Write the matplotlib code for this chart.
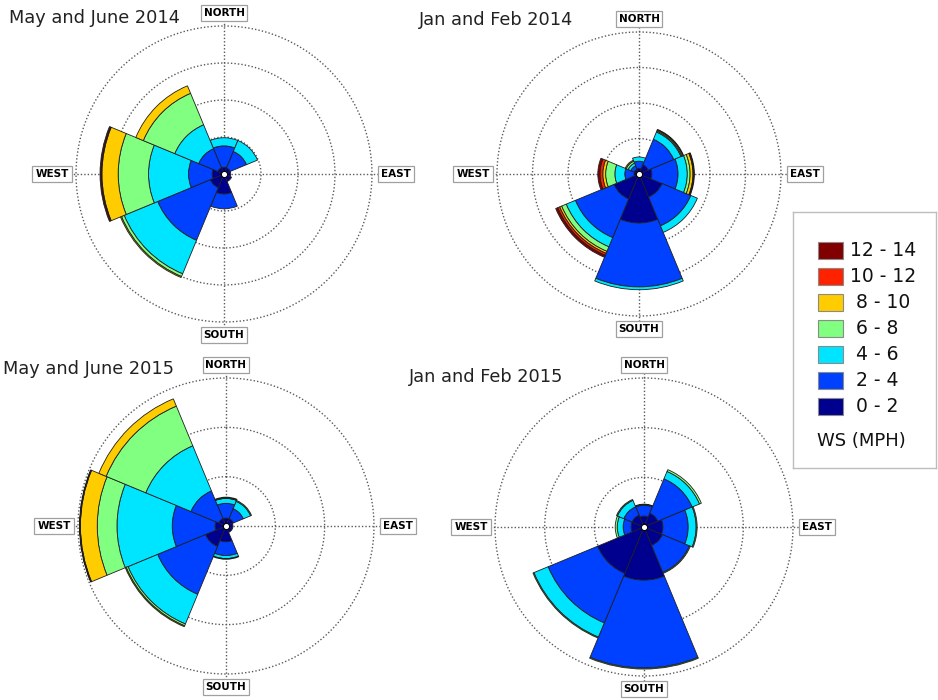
import numpy as np
import matplotlib.pyplot as plt
from matplotlib.patches import Rectangle

# directions clockwise from north, speed bins (MPH)
directions = ['N', 'NE', 'E', 'SE', 'S', 'SW', 'W', 'NW']
speed_bins = ['0 - 2', '2 - 4', '4 - 6', '6 - 8', '8 - 10', '10 - 12', '12 - 14']
bin_colors = ['#00008F', '#0040FF', '#00E5FF', '#80FF80', '#FFCC00', '#FF2200', '#800000']

# frequency (%) per speed bin (rows) and direction (columns)
may_jun_2014 = [
    [0.9, 0.9, 0.9, 1.1, 2.7, 2.0, 1.6, 0.9],
    [2.9, 2.4, 0.0, 0.0, 2.0, 7.7, 3.2, 2.8],
    [1.1, 1.6, 0.0, 0.0, 0.0, 4.9, 5.4, 3.5],
    [0.0, 0.0, 0.0, 0.0, 0.0, 0.4, 4.1, 4.6],
    [0.0, 0.0, 0.0, 0.0, 0.0, 0.15, 2.2, 1.1],
    [0.0, 0.0, 0.0, 0.0, 0.0, 0.0, 0.1, 0.0],
    [0.0, 0.0, 0.0, 0.0, 0.0, 0.0, 0.15, 0.0],
]
jan_feb_2014 = [
    [0.8, 1.4, 1.8, 3.5, 6.9, 3.8, 0.7, 0.7],
    [1.0, 3.9, 3.7, 4.4, 9.0, 5.9, 1.3, 0.55],
    [0.6, 1.1, 1.3, 1.0, 0.4, 1.4, 1.4, 0.4],
    [0.0, 0.15, 0.4, 0.0, 0.0, 0.7, 1.3, 0.3],
    [0.0, 0.15, 0.4, 0.0, 0.0, 0.3, 0.4, 0.15],
    [0.0, 0.1, 0.1, 0.0, 0.0, 0.3, 0.4, 0.0],
    [0.0, 0.0, 0.1, 0.0, 0.0, 0.3, 0.3, 0.0],
]
may_jun_2015 = [
    [1.6, 1.6, 1.4, 1.4, 3.2, 4.5, 2.2, 1.6],
    [3.0, 2.2, 0.0, 0.0, 2.8, 10.5, 8.7, 6.1],
    [1.0, 1.6, 0.0, 0.0, 0.6, 6.5, 11.2, 9.9],
    [0.1, 0.2, 0.0, 0.0, 0.15, 0.4, 4.0, 8.7],
    [0.15, 0.0, 0.0, 0.0, 0.0, 0.2, 3.4, 1.6],
    [0.0, 0.0, 0.0, 0.0, 0.0, 0.0, 0.1, 0.0],
    [0.0, 0.0, 0.0, 0.0, 0.0, 0.0, 0.1, 0.0],
]
jan_feb_2015 = [
    [2.2, 3.0, 3.8, 4.0, 10.7, 10.1, 2.6, 2.6],
    [2.2, 7.5, 5.1, 5.9, 17.7, 10.8, 1.6, 1.8],
    [0.1, 1.6, 1.6, 0.0, 0.0, 3.1, 1.2, 1.4],
    [0.1, 0.4, 0.2, 0.2, 0.2, 0.2, 0.4, 0.2],
    [0.0, 0.0, 0.0, 0.0, 0.0, 0.0, 0.0, 0.0],
    [0.0, 0.0, 0.0, 0.0, 0.0, 0.0, 0.0, 0.0],
    [0.0, 0.0, 0.0, 0.0, 0.0, 0.0, 0.0, 0.0],
]

W, H = 938, 700
fig = plt.figure(figsize=(W / 100, H / 100), dpi=100)
fig.patch.set_facecolor('white')

DOTS = (0, (1, 1.5))


def rose(data, title, cx, cy, rpx, rings, title_xy):
    """Draw one wind rose centred at pixel (cx, cy) with outer ring radius rpx."""
    ax = fig.add_axes([(cx - rpx) / W, 1 - (cy + rpx) / H, 2 * rpx / W, 2 * rpx / H],
                      projection='polar')
    rmax = rings[-1]
    ax.set_theta_zero_location('N')
    ax.set_theta_direction(-1)
    ax.set_ylim(0, rmax)
    ax.set_axis_off()

    # dotted range rings
    t = np.linspace(0, 2 * np.pi, 361)
    for r in rings:
        ax.plot(t, np.full_like(t, r), ls=DOTS, color='#5a5a5a',
                lw=1.0, zorder=1, clip_on=False)

    # dotted cross hair and compass labels
    for ang, name, off in [(0, 'NORTH', 13), (np.pi / 2, 'EAST', 24),
                           (np.pi, 'SOUTH', 13), (3 * np.pi / 2, 'WEST', 24)]:
        rl = rmax * (1 + off / rpx)
        ax.plot([ang, ang], [0, rl], ls=DOTS, color='#5a5a5a',
                lw=1.0, zorder=1, clip_on=False)
        ax.text(ang, rl, name, ha='center', va='center', fontsize=7.5,
                fontweight='bold', color='black', zorder=7, clip_on=False,
                bbox=dict(boxstyle='square,pad=0.28', fc='white', ec='#a0a0a0', lw=0.9))

    theta = np.arange(len(directions)) * 2 * np.pi / len(directions)
    vals = np.array(data, dtype=float)
    bottom = np.zeros(len(directions))
    for i, row in enumerate(vals):
        m = row > 0
        ax.bar(theta[m], row[m], width=2 * np.pi / len(directions), bottom=bottom[m],
               color=bin_colors[i], edgecolor='#1e1e1e', lw=0.6, zorder=3)
        bottom += row

    ax.plot([0], [0], 'o', ms=4.5, mfc='white', mec='black', mew=0.8, zorder=8)
    fig.text(title_xy[0] / W, 1 - title_xy[1] / H, title, fontsize=12.8,
             color='#222222', ha='left', va='baseline')
    return ax


rose(may_jun_2014, 'May and June 2014', 224, 174, 148, [5, 10, 15, 20], (9, 23))
rose(jan_feb_2014, 'Jan and Feb 2014', 639, 174, 142, [5, 10, 15, 20], (419, 25))
rose(may_jun_2015, 'May and June 2015', 226, 526, 148, [10, 20, 30], (3, 374))
rose(jan_feb_2015, 'Jan and Feb 2015', 644, 527, 149, [10, 20, 30], (409, 382))

# legend box
lx0, ly0, lw_, lh_ = 793, 212, 143, 256
lax = fig.add_axes([lx0 / W, 1 - (ly0 + lh_) / H, lw_ / W, lh_ / H])
lax.set_xlim(0, lw_)
lax.set_ylim(lh_, 0)
lax.set_xticks([])
lax.set_yticks([])
for s in lax.spines.values():
    s.set_color('#bdbdbd')
    s.set_linewidth(1.0)

legend_labels = ['12 - 14', '10 - 12', ' 8 - 10', ' 6 - 8', ' 4 - 6', ' 2 - 4', ' 0 - 2']
for k, lab in enumerate(legend_labels):
    yc = 38 + 26 * k
    col = bin_colors[len(bin_colors) - 1 - k]
    lax.add_patch(Rectangle((25, yc - 8.5), 25, 17, fc=col, ec='#8a8a8a', lw=0.8))
    lax.text(57, yc, lab, fontsize=13.5, ha='left', va='center', color='#111111')
lax.text(24, 229, 'WS (MPH)', fontsize=13, ha='left', va='center', color='#111111')

fig.savefig('out.png', dpi=100)
